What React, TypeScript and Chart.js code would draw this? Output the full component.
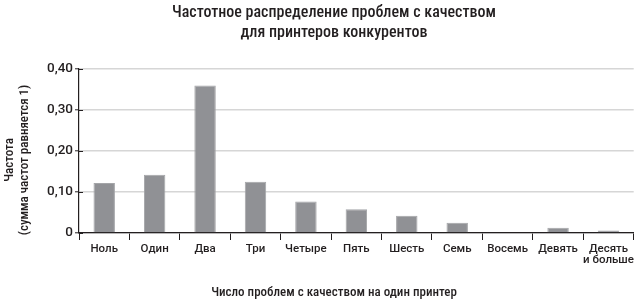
import React, { useEffect, useRef } from "react";
import { Chart, registerables } from "chart.js";

Chart.register(...registerables);

const categories: (string | string[])[] = [
  "Ноль",
  "Один",
  "Два",
  "Три",
  "Четыре",
  "Пять",
  "Шесть",
  "Семь",
  "Восемь",
  "Девять",
  ["Десять", "и больше"],
];

const frequencies = [0.122, 0.142, 0.36, 0.125, 0.077, 0.058, 0.042, 0.025, 0, 0.013, 0.006];

const yTickValues = [0, 0.1, 0.2, 0.3, 0.4];

const titleLines = ["Частотное распределение проблем с качеством", "для принтеров конкурентов"];
const xTitle = "Число проблем с качеством на один принтер";
const yTitleLines = ["Частота", "(сумма частот равняется 1)"];

const FAMILY = "Roboto, 'Open Sans', sans-serif";
const TEXT = "#231f20";

const textPlugin = {
  id: "textPlugin",
  afterDraw(chart: any) {
    const ctx = chart.ctx as CanvasRenderingContext2D;
    const area = chart.chartArea;
    const yScale = chart.scales.y;
    ctx.save();
    // inner half of the y-axis tick marks (they cross the axis line)
    ctx.strokeStyle = TEXT;
    ctx.lineWidth = 1;
    yTickValues.forEach((v) => {
      const py = Math.round(yScale.getPixelForValue(v)) + 0.5;
      ctx.beginPath();
      ctx.moveTo(area.left, py);
      ctx.lineTo(area.left + 4, py);
      ctx.stroke();
    });
    ctx.fillStyle = TEXT;
    ctx.textAlign = "center";
    ctx.textBaseline = "alphabetic";
    ctx.font = `condensed 500 16px ${FAMILY}`;
    ctx.fillText(titleLines[0], 334, 17);
    ctx.fillText(titleLines[1], 334, 37);
    ctx.font = `condensed 500 13px ${FAMILY}`;
    ctx.fillText(xTitle, 334, 296);
    ctx.translate(0, 160);
    ctx.rotate(-Math.PI / 2);
    ctx.fillText(yTitleLines[0], 0, 13);
    ctx.fillText(yTitleLines[1], 0, 28);
    ctx.restore();
  },
};

export default function App() {
  const ref = useRef<HTMLCanvasElement | null>(null);
  useEffect(() => {
    document.body.style.margin = "0";
    const canvas = ref.current!;
    const chart = new Chart(canvas, {
      type: "bar",
      data: {
        labels: categories as any,
        datasets: [
          {
            data: frequencies,
            backgroundColor: "#909195",
            borderColor: "#a4a5a8",
            borderWidth: 1,
            categoryPercentage: 1,
            barPercentage: 0.425,
          },
        ],
      },
      options: {
        responsive: false,
        animation: false,
        devicePixelRatio: 1,
        layout: { padding: { left: 0, right: 2, top: 69, bottom: 0 } },
        plugins: {
          legend: { display: false },
          title: { display: false },
          tooltip: { enabled: false },
        },
        scales: {
          x: {
            offset: true,
            grid: {
              offset: true,
              drawOnChartArea: false,
              drawTicks: true,
              tickLength: 7,
              tickColor: TEXT,
              tickWidth: 1,
            },
            border: { display: true, color: TEXT, width: 1.2 },
            ticks: {
              autoSkip: false,
              maxRotation: 0,
              minRotation: 0,
              padding: 4,
              color: TEXT,
              font: { family: FAMILY, style: "condensed" as any, weight: "500", size: 11.5, lineHeight: 0.95 },
            },
            afterFit(scale: any) {
              scale.height = 66;
            },
          },
          y: {
            min: 0,
            max: 0.4,
            afterBuildTicks(scale: any) {
              scale.ticks = yTickValues.map((v) => ({ value: v }));
            },
            grid: {
              color: "#d6d6d6",
              lineWidth: 1.6,
              drawTicks: true,
              tickLength: 4,
              tickColor: TEXT,
              tickWidth: 1,
            },
            border: { display: true, color: TEXT, width: 1.2 },
            ticks: {
              padding: 2,
              color: TEXT,
              font: { family: FAMILY, style: "condensed" as any, weight: "500", size: 13.5 },
              callback: (v: any) => (Number(v) === 0 ? "0" : Number(v).toFixed(2).replace(".", ",")),
            },
            afterFit(scale: any) {
              scale.width = 79;
            },
          },
        },
      },
      plugins: [textPlugin],
    });
    return () => chart.destroy();
  }, []);
  return <canvas ref={ref} width={638} height={299} style={{ display: "block" }} />;
}
